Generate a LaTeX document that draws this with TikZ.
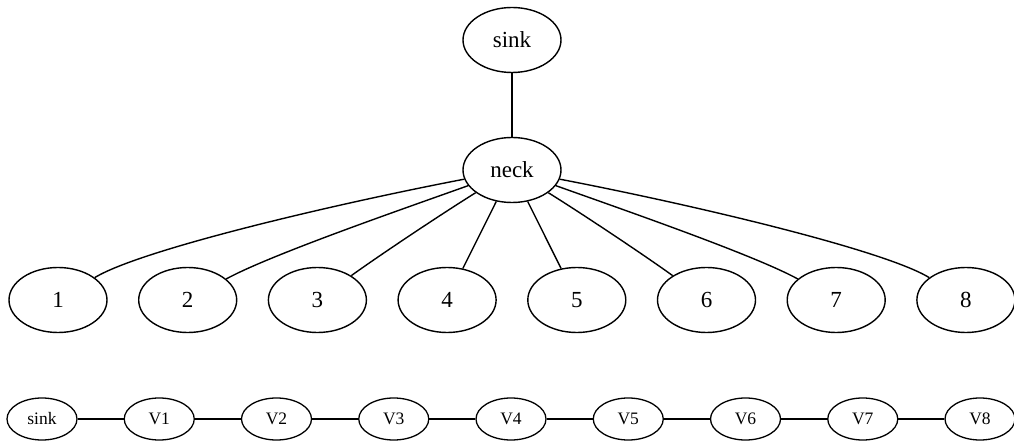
\documentclass[tikz,border=0pt]{standalone}
\usepackage{fontspec}
\setmainfont{Liberation Serif}
\usetikzlibrary{shapes.geometric}
\begin{document}
\begin{tikzpicture}[x=1pt,y=-1pt,
  big/.style={draw,ellipse,line width=1.4pt,inner sep=0pt,minimum width=98pt,minimum height=65pt,font=\fontsize{23}{26}\selectfont},
  small/.style={draw,ellipse,line width=1.3pt,inner sep=0pt,minimum width=70pt,minimum height=42pt,font=\fontsize{17.5}{20}\selectfont},
  link/.style={line width=1.4pt}]
\useasboundingbox (0,0) rectangle (1014,443);
\node[big] (sink) at (512,40) {sink};
\node[big] (neck) at (512,170) {neck};
\foreach \i in {1,...,8}{
  \pgfmathsetmacro{\xx}{58+129.7*(\i-1)}
  \node[big] (n\i) at (\xx,300) {\i};
}
\draw[link] (sink) -- (neck);
\draw[link] (neck) .. controls (330,205) and (140,250) .. (n1);
\draw[link] (neck) .. controls (400,210) and (270,255) .. (n2);
\draw[link] (neck) .. controls (440,215) and (380,255) .. (n3);
\draw[link] (neck) -- (n4);
\draw[link] (neck) -- (n5);
\draw[link] (neck) .. controls (584,215) and (644,255) .. (n6);
\draw[link] (neck) .. controls (624,210) and (754,255) .. (n7);
\draw[link] (neck) .. controls (694,205) and (884,250) .. (n8);
% bottom chain
\node[small] (b0) at (42,419) {sink};
\foreach \i in {1,...,8}{
  \pgfmathsetmacro{\xx}{42+117.25*\i}
  \node[small] (b\i) at (\xx,419) {V\i};
}
\foreach \i [count=\j from 1] in {0,...,7}{
  \draw[link] (b\i) -- (b\j);
}
\end{tikzpicture}
\end{document}
